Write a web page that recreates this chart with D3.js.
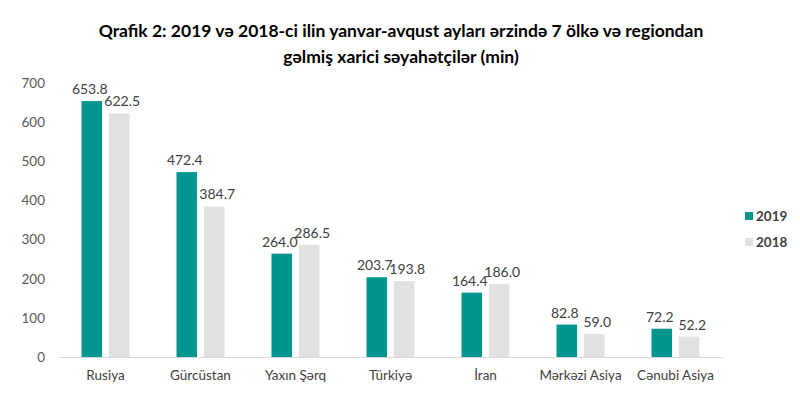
<!DOCTYPE html>
<html lang="az">
<head>
<meta charset="utf-8">
<title>Qrafik 2</title>
<script src="https://d3js.org/d3.v7.min.js"></script>
<style>
  body { margin: 0; background: #fff; }
  text { font-family: Lato, "Open Sans", sans-serif; }
</style>
</head>
<body>
<script>
var w = 800, h = 399;

var categories = ['Rusiya', 'Gürcüstan', 'Yaxın Şərq', 'Türkiyə', 'İran', 'Mərkəzi Asiya', 'Cənubi Asiya'];
var values2019 = [653.8, 472.4, 264.0, 203.7, 164.4, 82.8, 72.2];
var values2018 = [622.5, 384.7, 286.5, 193.8, 186.0, 59.0, 52.2];
var seriesNames = ['2019', '2018'];
var yTicks = [0, 100, 200, 300, 400, 500, 600, 700];
var colors = ['#00958f', '#e1e1e1'];

var margin = { left: 58, right: 77, top: 83, bottom: 42 };

var svg = d3.select('body').append('svg')
    .attr('width', w)
    .attr('height', h);

// title
var title = svg.append('text')
    .attr('x', 401)
    .attr('text-anchor', 'middle')
    .attr('font-size', '17.5px')
    .attr('font-weight', 'bold')
    .attr('fill', '#000');
title.append('tspan').attr('x', 401).attr('y', 37)
    .text('Qrafik 2: 2019 və 2018-ci ilin yanvar-avqust ayları ərzində 7 ölkə və regiondan');
title.append('tspan').attr('x', 401).attr('y', 63)
    .text('gəlmiş xarici səyahətçilər (min)');

var xScale = d3.scaleBand()
    .domain(categories)
    .range([margin.left, w - margin.right]);

var xInner = d3.scaleBand()
    .domain(seriesNames)
    .range([0, 48])
    .paddingInner(0.25);

var yScale = d3.scaleLinear()
    .domain([0, 700])
    .range([h - margin.bottom, margin.top]);

// y axis (labels only)
var yAxis = svg.append('g')
    .attr('transform', 'translate(' + (margin.left - 13) + ',0)')
    .call(d3.axisLeft(yScale).tickValues(yTicks).tickSize(0).tickPadding(0));
yAxis.select('.domain').remove();
yAxis.selectAll('text')
    .attr('font-size', '13.5px')
    .attr('fill', '#595959')
    .style('font-family', 'Lato, sans-serif');

// x axis
var xAxis = svg.append('g')
    .attr('transform', 'translate(0,' + yScale(0) + ')')
    .call(d3.axisBottom(xScale).tickSize(0).tickPadding(13));
xAxis.select('.domain').attr('stroke', '#d9d9d9');
xAxis.selectAll('text')
    .attr('font-size', '13.5px')
    .attr('fill', '#404040')
    .style('font-family', 'Lato, sans-serif');

var series = [values2019, values2018];

series.forEach(function(vals, si) {
    var g = svg.append('g');
    g.selectAll('rect')
        .data(vals)
        .enter()
        .append('rect')
        .attr('x', function(d, i) {
            return xScale(categories[i]) + xScale.bandwidth() / 2 - 24 + xInner(seriesNames[si]);
        })
        .attr('y', function(d) { return yScale(d); })
        .attr('width', xInner.bandwidth())
        .attr('height', function(d) { return yScale(0) - yScale(d); })
        .attr('fill', colors[si]);

    g.selectAll('text')
        .data(vals)
        .enter()
        .append('text')
        .text(function(d) { return d.toFixed(1); })
        .attr('x', function(d, i) {
            return xScale(categories[i]) + xScale.bandwidth() / 2 - 24 + xInner(seriesNames[si]) + xInner.bandwidth() / 2 + (si === 0 ? -2 : 3);
        })
        .attr('y', function(d) { return yScale(d) - 7; })
        .attr('text-anchor', 'middle')
        .attr('font-size', '14px')
        .attr('fill', '#404040');
});

// legend
var legend = svg.append('g');
seriesNames.forEach(function(name, i) {
    legend.append('rect')
        .attr('x', 745)
        .attr('y', 212 + i * 26)
        .attr('width', 8)
        .attr('height', 8)
        .attr('fill', colors[i]);
    legend.append('text')
        .attr('x', 756)
        .attr('y', 221 + i * 26)
        .attr('font-size', '13.5px')
        .attr('font-weight', 'bold')
        .attr('fill', '#404040')
        .text(name);
});
</script>
</body>
</html>
